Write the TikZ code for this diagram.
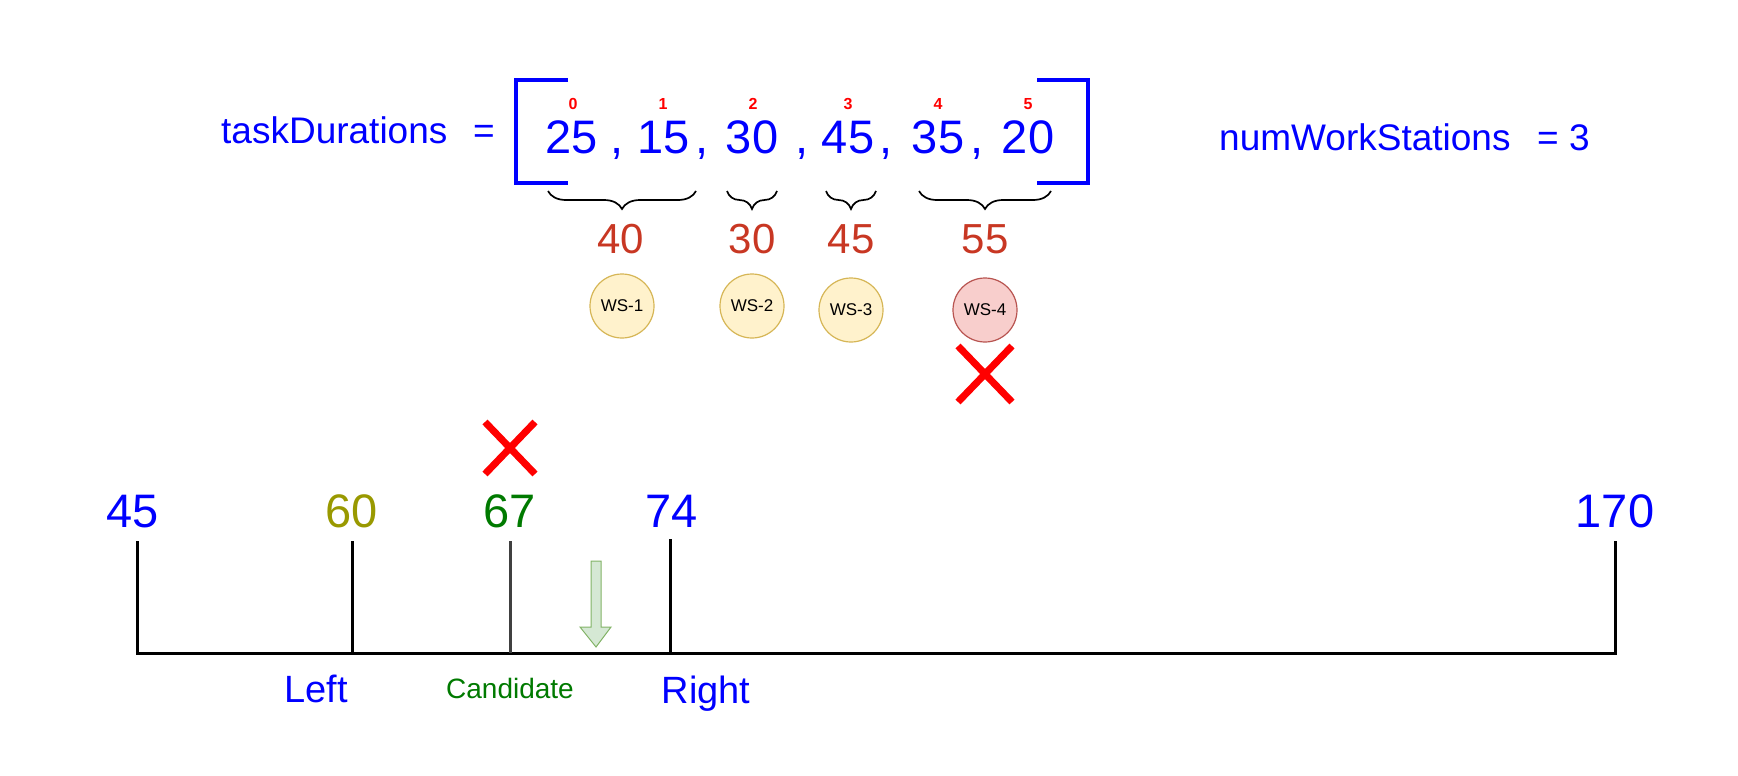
\documentclass[tikz,border=0pt]{standalone}
\usepackage{fontspec}
\setmainfont{Liberation Sans}
\usetikzlibrary{decorations.pathreplacing}

\definecolor{sumred}{RGB}{200,55,35}
\definecolor{olivetxt}{RGB}{153,153,0}
\definecolor{greentxt}{RGB}{0,122,0}
\definecolor{wsfill}{HTML}{FFF2CC}
\definecolor{wsdraw}{HTML}{D6B656}
\definecolor{badfill}{HTML}{F8CECC}
\definecolor{baddraw}{HTML}{B85450}
\definecolor{arrfill}{HTML}{D5E8D4}
\definecolor{arrdraw}{HTML}{82B366}

\begin{document}
\begin{tikzpicture}[x=1pt, y=-1pt,
    txt/.style={inner sep=0pt, anchor=base},
    head/.style={txt, anchor=base west, text=blue, font=\fontsize{37}{40}\selectfont},
    arrnum/.style={txt, text=blue, font=\fontsize{47}{50}\selectfont},
    idx/.style={txt, text=red, font=\fontsize{16}{18}\selectfont\bfseries},
    sumnum/.style={txt, text=sumred, font=\fontsize{42}{46}\selectfont},
    ws/.style={circle, draw=wsdraw, fill=wsfill, line width=1.2pt, minimum size=64pt, inner sep=0pt, font=\fontsize{17}{20}\selectfont},
    brc/.style={decorate, decoration={brace, mirror, amplitude=18pt}, line width=1.7pt},
    sqbr/.style={draw=blue, line width=4.5pt},
    cross/.style={draw=red, line width=7pt},
    axisnum/.style={txt, font=\fontsize{47}{50}\selectfont},
    axis/.style={line width=3pt},
]
\useasboundingbox (0,0) rectangle (1738,776);

% Header texts
\node[head] (lbl) at (221,143) {taskDurations};
\node[head] (eqa) at (473,143) {=};
\node[head] (nws) at (1219,150) {numWorkStations};
\node[head] (eqb) at (1537,150) {= 3};

% Square brackets
\draw[sqbr] (568,80) -- (516,80) -- (516,183) -- (568,183);
\draw[sqbr] (1037,80) -- (1088,80) -- (1088,183) -- (1037,183);

% Array values
\node[arrnum] (v0) at (572,153) {25};
\node[arrnum] (v1) at (664,153) {15};
\node[arrnum] (v2) at (752,153) {30};
\node[arrnum] (v3) at (848,153) {45};
\node[arrnum] (v4) at (938,153) {35};
\node[arrnum] (v5) at (1028,153) {20};

% Commas
\node[arrnum] (c0) at (617,153) {,};
\node[arrnum] (c1) at (702,153) {,};
\node[arrnum] (c2) at (802,153) {,};
\node[arrnum] (c3) at (886,153) {,};
\node[arrnum] (c4) at (977,153) {,};

% Indices
\node[idx] (i0) at (573,110) {0};
\node[idx] (i1) at (663,110) {1};
\node[idx] (i2) at (753,110) {2};
\node[idx] (i3) at (848,110) {3};
\node[idx] (i4) at (938,110) {4};
\node[idx] (i5) at (1028,110) {5};

% Groups
\draw[brc] (548,191) -- (696,191);
\draw[brc] (727,191) -- (777,191);
\draw[brc] (826,191) -- (876,191);
\draw[brc] (919,191) -- (1051,191);

\node[sumnum] (s1) at (621,253) {40};
\node[sumnum] (s2) at (752,253) {30};
\node[sumnum] (s3) at (851,253) {45};
\node[sumnum] (s4) at (985,253) {55};

% Work stations
\node[ws] (ws1) at (622,306) {WS-1};
\node[ws] (ws2) at (752,306) {WS-2};
\node[ws] (ws3) at (851,310) {WS-3};
\node[ws, draw=baddraw, fill=badfill] (ws4) at (985,310) {WS-4};

% Rejection marks
\coordinate (xa) at (985,374);
\draw[cross] ([shift={(-27,-28)}]xa) -- ([shift={(27,28)}]xa);
\draw[cross] ([shift={(27,-28)}]xa) -- ([shift={(-27,28)}]xa);
\coordinate (xb) at (510,448);
\draw[cross] ([shift={(-25,-26)}]xb) -- ([shift={(25,26)}]xb);
\draw[cross] ([shift={(25,-26)}]xb) -- ([shift={(-25,26)}]xb);

% Search range
\node[axisnum, text=blue] (n45) at (133,527) {45};
\node[axisnum, text=olivetxt] (n60) at (352,527) {60};
\node[axisnum, text=greentxt] (n67) at (510,527) {67};
\node[axisnum, text=blue] (n74) at (672,527) {74};
\node[axisnum, text=blue] (n170) at (1615,527) {170};

\draw[axis] (137,541) -- (137,653) -- (1615,653) -- (1615,541);
\draw[axis] (352,541) -- (352,653);
\draw[axis, black!75] (510,541) -- (510,653);
\draw[axis] (670,539) -- (670,653);

% Mid pointer
\draw[draw=arrdraw, fill=arrfill, line width=1pt] (591,561) -- (601,561) -- (601,627) -- (611,627) -- (596,647) -- (580,627) -- (591,627) -- cycle;

\node[txt, text=blue, font=\fontsize{38}{42}\selectfont] (left) at (316,702) {Left};
\node[txt, text=greentxt, font=\fontsize{28}{32}\selectfont] (cand) at (510,698) {Candidate};
\node[txt, text=blue, font=\fontsize{38}{42}\selectfont] (right) at (706,703) {Right};

\end{tikzpicture}
\end{document}
